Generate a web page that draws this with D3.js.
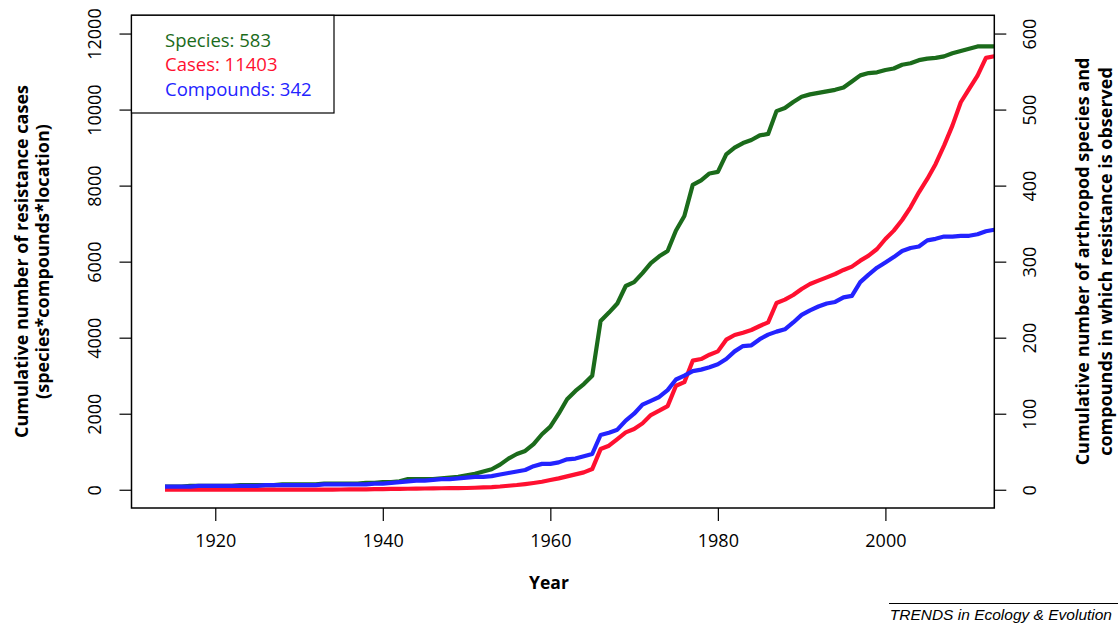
<!DOCTYPE html>
<html>
<head>
<meta charset="utf-8">
<script src="https://cdn.jsdelivr.net/npm/d3@7"></script>
<style>
  body { margin: 0; background: #fff; }
  svg { display: block; }
  text { font-family: "Open Sans", sans-serif; fill: #000; }
</style>
</head>
<body>
<svg id="chart" width="1118" height="625"></svg>
<script>
const years = d3.range(1914, 2014);

// species (right axis)
const species = [
  4, 4, 4, 5, 5, 5, 5, 5, 5, 6,
  6, 6, 6, 6, 7, 7, 7, 7, 7, 8,
  8, 8, 8, 8, 9, 9, 10, 10, 11, 14,
  14, 14, 14, 15, 16, 17, 19, 21, 24, 27,
  33, 41, 47, 51, 60, 73, 83, 100, 119, 130,
  139, 150, 222, 233, 245, 268, 273, 285, 298, 307,
  314, 341, 360, 401, 407, 416, 418, 441, 450, 456,
  460, 466, 468, 498, 502, 510, 517, 520, 522, 524,
  526, 529, 537, 545, 548, 549, 552, 554, 559, 561,
  565, 567, 568, 570, 574, 577, 580, 583, 583, 583
];

// resistance cases (left axis)
const cases = [
  0, 0, 0, 0, 0, 0, 0, 0, 0, 0,
  1, 1, 1, 1, 2, 2, 2, 3, 3, 4,
  5, 6, 8, 10, 12, 15, 18, 21, 24, 27,
  30, 33, 36, 39, 42, 44, 46, 52, 60, 70,
  85, 105, 125, 150, 178, 210, 255, 300, 351, 404,
  456, 544, 1070, 1158, 1333, 1509, 1596, 1746, 1965, 2079,
  2200, 2737, 2830, 3395, 3439, 3552, 3640, 3947, 4070, 4132,
  4202, 4307, 4404, 4912, 5000, 5123, 5281, 5412, 5500, 5587,
  5675, 5781, 5870, 6026, 6158, 6333, 6596, 6816, 7096, 7430,
  7825, 8176, 8570, 9053, 9579, 10193, 10544, 10895, 11360, 11403
];

// compounds (right axis)
const compounds = [
  4, 4, 4, 4, 5, 5, 5, 5, 5, 5,
  5, 5, 6, 6, 6, 6, 6, 6, 6, 7,
  7, 7, 7, 7, 7, 8, 8, 9, 10, 11,
  12, 12, 13, 14, 14, 15, 16, 17, 17, 18,
  20, 22, 24, 26, 31, 34, 34, 36, 40, 41,
  44, 47, 72, 75, 79, 91, 100, 112, 117, 122,
  131, 145, 150, 156, 158, 161, 165, 172, 182, 189,
  190, 198, 204, 208, 211, 220, 230, 236, 241, 245,
  247, 253, 255, 273, 283, 292, 299, 306, 314, 318,
  320, 328, 330, 333, 333, 334, 334, 336, 340, 342
];

const xTicks = [1920, 1940, 1960, 1980, 2000];
const leftTicks = [0, 2000, 4000, 6000, 8000, 10000, 12000];
const rightTicks = [0, 100, 200, 300, 400, 500, 600];

const legendItems = [
  { label: 'Species: 583', color: '#1b6b1b' },
  { label: 'Cases: 11403', color: '#ff1030' },
  { label: 'Compounds: 342', color: '#2323ff' }
];

const svg = d3.select('#chart');

const LEFT = 131.5, RIGHT = 994.3, TOP = 15.3, BOTTOM = 508;

const x = d3.scaleLinear().domain([1910, 2013]).range([LEFT, RIGHT]);
const yLeft = d3.scaleLinear().domain([-480, 12480]).range([BOTTOM, TOP]);
const yRight = d3.scaleLinear().domain([-24, 624]).range([BOTTOM, TOP]);

svg.append('defs').append('clipPath').attr('id', 'plotClip')
  .append('rect')
  .attr('x', LEFT).attr('y', TOP)
  .attr('width', RIGHT - LEFT).attr('height', BOTTOM - TOP);

// axes
const xAxis = svg.append('g')
  .attr('transform', `translate(0,${BOTTOM})`)
  .call(d3.axisBottom(x).tickValues(xTicks).tickFormat(d3.format('d')).tickSize(13));
xAxis.select('.domain').remove();
xAxis.selectAll('text').attr('y', 38.7).attr('dy', 0).style('font-size', '18px');

const leftAxis = svg.append('g')
  .attr('transform', `translate(${LEFT},0)`)
  .call(d3.axisLeft(yLeft).tickValues(leftTicks).tickFormat(d3.format('d')).tickSize(12));
leftAxis.select('.domain').remove();
leftAxis.selectAll('text')
  .attr('transform', 'rotate(-90)')
  .attr('x', 0).attr('y', -30.8).attr('dy', 0)
  .attr('text-anchor', 'middle')
  .style('font-size', '18px');

const rightAxis = svg.append('g')
  .attr('transform', `translate(${RIGHT},0)`)
  .call(d3.axisRight(yRight).tickValues(rightTicks).tickFormat(d3.format('d')).tickSize(12));
rightAxis.select('.domain').remove();
rightAxis.selectAll('text')
  .attr('transform', 'rotate(-90)')
  .attr('x', 0).attr('y', 41.5).attr('dy', 0)
  .attr('text-anchor', 'middle')
  .style('font-size', '18px');

svg.selectAll('.tick line').attr('stroke', '#000').attr('stroke-width', 1.2);

// lines
const lineGroup = svg.append('g').attr('clip-path', 'url(#plotClip)');

const drawSeries = (values, yScale, color) => lineGroup.append('path')
  .datum(values)
  .attr('d', d3.line().x((d, i) => x(years[i])).y(d => yScale(d)))
  .attr('fill', 'none')
  .attr('stroke', color)
  .attr('stroke-width', 4.2)
  .attr('stroke-linejoin', 'round');

drawSeries(species, yRight, legendItems[0].color);
drawSeries(cases, yLeft, legendItems[1].color);
drawSeries(compounds, yRight, legendItems[2].color);

// plot box
svg.append('rect')
  .attr('x', LEFT).attr('y', TOP)
  .attr('width', RIGHT - LEFT).attr('height', BOTTOM - TOP)
  .attr('fill', 'none').attr('stroke', '#000').attr('stroke-width', 1.5);

// legend
const legend = svg.append('g');
legend.append('rect')
  .attr('x', LEFT).attr('y', TOP)
  .attr('width', 334 - LEFT).attr('height', 113 - TOP)
  .attr('fill', '#fff').attr('stroke', '#000').attr('stroke-width', 1.2);
legend.selectAll('text')
  .data(legendItems)
  .join('text')
  .attr('x', 165)
  .attr('y', (d, i) => 46.7 + i * 24.6)
  .style('fill', d => d.color)
  .style('font-size', '18.5px')
  .text(d => d.label);

// axis titles
svg.append('text')
  .attr('x', 549).attr('y', 589)
  .attr('text-anchor', 'middle')
  .style('font-weight', 'bold').style('font-size', '17.5px')
  .text('Year');

const leftTitle = ['Cumulative number of resistance cases', '(species*compounds*location)'];
svg.append('g').selectAll('text')
  .data(leftTitle)
  .join('text')
  .attr('transform', (d, i) => `translate(${28 + i * 21},261.5) rotate(-90)`)
  .attr('text-anchor', 'middle')
  .style('font-weight', 'bold').style('font-size', '18px')
  .text(d => d);

const rightTitle = ['Cumulative number of arthropod species and', 'compounds in which resistance is observed'];
svg.append('g').selectAll('text')
  .data(rightTitle)
  .join('text')
  .attr('transform', (d, i) => `translate(${1089 + i * 22.5},261.5) rotate(-90)`)
  .attr('text-anchor', 'middle')
  .style('font-weight', 'bold').style('font-size', '18px')
  .text(d => d);

// footer
svg.append('line')
  .attr('x1', 889).attr('x2', 1118).attr('y1', 603.5).attr('y2', 603.5)
  .attr('stroke', '#000').attr('stroke-width', 1);
svg.append('text')
  .attr('x', 1112).attr('y', 619.5)
  .attr('text-anchor', 'end')
  .style('font-family', '"Liberation Sans", Arial, sans-serif')
  .style('font-style', 'italic').style('font-size', '15.5px')
  .text('TRENDS in Ecology & Evolution');
</script>
</body>
</html>
